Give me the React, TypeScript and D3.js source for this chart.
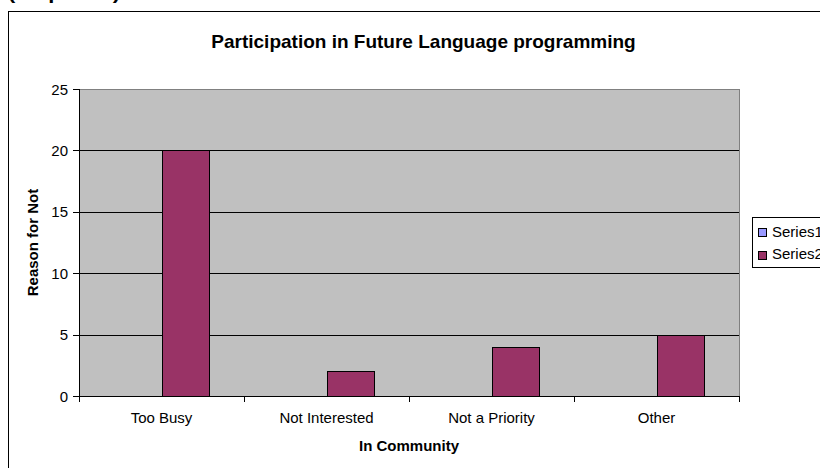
import React from "react";
import * as d3 from "d3";

const categories = ["Too Busy", "Not Interested", "Not a Priority", "Other"];
const series1 = [0, 0, 0, 0];
const series2 = [20, 2, 4, 5];
const seriesNames = ["Series1", "Series2"];
const seriesColors = ["#9999FF", "#993366"];
const yTicks = [0, 5, 10, 15, 20, 25];

const W = 820;
const H = 468;
const plot = { left: 79, right: 739, top: 89, bottom: 396 };

export default function App() {
  const x = d3.scaleBand<string>().domain(categories).range([plot.left, plot.right]).paddingInner(0).paddingOuter(0);
  const y = d3.scaleLinear().domain([0, 25]).range([plot.bottom, plot.top]);
  const bw = x.bandwidth() / 3.5;
  const font = "Arial, 'Liberation Sans', sans-serif";
  const allSeries = [series1, series2];

  return (
    <svg width={W} height={H} style={{ position: "absolute", left: 0, top: 0 }} fontFamily={font}>
      <rect x={0} y={0} width={W} height={H} fill="#fff" />
      <text x={8} y={-1} fontSize={18} fontWeight="bold" textLength={112} lengthAdjust="spacingAndGlyphs">(response)</text>
      <rect x={8.5} y={11.5} width={830} height={480} fill="#fff" stroke="#000" strokeWidth={1} />
      <text x={423.5} y={48} textAnchor="middle" fontSize={19} fontWeight="bold">Participation in Future Language programming</text>

      <rect x={plot.left} y={plot.top} width={plot.right - plot.left} height={plot.bottom - plot.top} fill="#C0C0C0" />
      {yTicks.map((t) => (
        <line key={"g" + t} x1={plot.left} x2={plot.right} y1={Math.round(y(t)) + 0.5} y2={Math.round(y(t)) + 0.5}
          stroke={t === 25 ? "#808080" : "#000"} strokeWidth={1} />
      ))}
      <line x1={plot.right + 0.5} x2={plot.right + 0.5} y1={plot.top} y2={plot.bottom} stroke="#808080" />

      {categories.map((c, i) =>
        allSeries.map((s, si) => {
          const v = s[i];
          const cx = (x(c) as number) + x.bandwidth() / 2;
          const bx = cx - bw + si * bw;
          if (v === 0) return null;
          return (
            <rect key={c + si} x={Math.round(bx) + 0.5} y={Math.round(y(v)) + 0.5} width={Math.round(bw)}
              height={Math.round(y(0)) - Math.round(y(v))} fill={seriesColors[si]} stroke="#000" strokeWidth={1} />
          );
        })
      )}

      {/* axes */}
      <line x1={plot.left + 0.5} x2={plot.left + 0.5} y1={plot.top} y2={plot.bottom + 0.5} stroke="#000" />
      <line x1={plot.left} x2={plot.right + 1} y1={plot.bottom + 0.5} y2={plot.bottom + 0.5} stroke="#000" />
      {yTicks.map((t) => (
        <g key={"t" + t}>
          <line x1={plot.left - 6} x2={plot.left} y1={Math.round(y(t)) + 0.5} y2={Math.round(y(t)) + 0.5} stroke="#000" />
          <text x={68} y={y(t) + 5.5} textAnchor="end" fontSize={15}>{t}</text>
        </g>
      ))}
      {[...categories.map((c) => x(c) as number), plot.right].map((v, i) => (
        <line key={"xt" + i} x1={Math.round(v) + 0.5} x2={Math.round(v) + 0.5} y1={plot.bottom} y2={plot.bottom + 6} stroke="#000" />
      ))}
      {categories.map((c) => (
        <text key={"xl" + c} x={(x(c) as number) + x.bandwidth() / 2} y={423} textAnchor="middle" fontSize={15}>{c}</text>
      ))}
      <text x={409} y={451} textAnchor="middle" fontSize={15} fontWeight="bold">In Community</text>
      <text transform={`translate(38, ${(plot.top + plot.bottom) / 2}) rotate(-90)`} textAnchor="middle" fontSize={15} fontWeight="bold">Reason for Not</text>

      {/* legend */}
      <rect x={752.5} y={217.5} width={100} height={50} fill="#fff" stroke="#000" />
      {seriesNames.map((n, i) => (
        <g key={n}>
          <rect x={758.5} y={228.5 + i * 23} width={8} height={8} fill={seriesColors[i]} stroke="#000" />
          <text x={772} y={236.5 + i * 22} fontSize={15}>{n}</text>
        </g>
      ))}
    </svg>
  );
}
